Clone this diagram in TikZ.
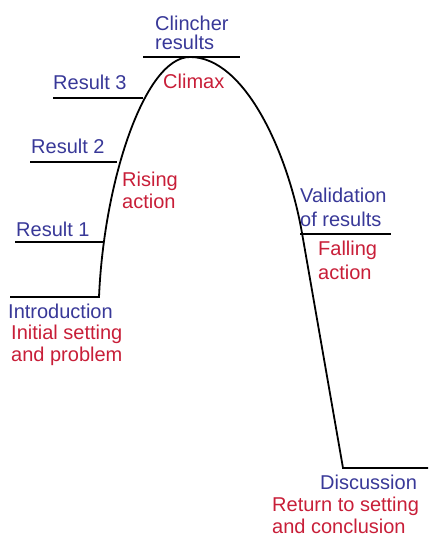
\documentclass[tikz,border=0pt]{standalone}
\usepackage{fontspec}
\setmainfont{Liberation Sans}
\definecolor{stageblue}{RGB}{56,56,152}
\definecolor{stagered}{RGB}{200,30,56}
\begin{document}
\begin{tikzpicture}[x=1pt,y=-1pt,
  arc/.style={line width=1.8pt,black},
  blueword/.style={text=stageblue,inner sep=0pt,anchor=base west,align=left,
    font=\fontsize{20}{22}\selectfont},
  redword/.style={text=stagered,inner sep=0pt,anchor=base west,align=left,
    font=\fontsize{20}{22}\selectfont},
  wide/.style={font=\fontsize{20}{24}\selectfont},
  tight/.style={font=\fontsize{20}{19}\selectfont}]
  \useasboundingbox (0,0) rectangle (428,537);
  % points on the story arc
  \coordinate (I0) at (10,297);
  \coordinate (I) at (99,297);
  \coordinate (T) at (190,57);
  \coordinate (V) at (302,233);
  \coordinate (D) at (343,468);
  \coordinate (D1) at (428,468);
  % the arc itself
  \draw[arc] (I0)--(I) .. controls (104,180) and (145,57) .. (T)
    .. controls (245,57) and (288,153) .. (V) -- (D) -- (D1);
  % result lines
  \coordinate (R1) at (103,242);
  \coordinate (R2) at (117,162);
  \coordinate (R3) at (143,98);
  \draw[arc] (15,242)--(R1);   % result 1
  \draw[arc] (30,162)--(R2);   % result 2
  \draw[arc] (53,98)--(R3);    % result 3
  \draw[arc] (143,57)--(240,57); % clincher
  \draw[arc] (300,234)--(391,234); % validation
  % labels (two-line labels sit on their last baseline)
  \node[blueword,tight] (clinch) at (155,50) {Clincher\\results};
  \node[redword]  (climax) at (163,89) {Climax};
  \node[blueword] (res3) at (53,90) {Result 3};
  \node[blueword] (res2) at (31,154) {Result 2};
  \node[blueword] (res1) at (16,236) {Result 1};
  \node[redword]  (rising) at (122,208) {Rising\\action};
  \node[blueword,wide] (valid) at (300,226) {Validation\\of results};
  \node[redword,wide]  (falling) at (318,279) {Falling\\action};
  \node[blueword] (intro) at (8,318) {Introduction};
  \node[redword]  (setting) at (11,361) {Initial setting\\and problem};
  \node[blueword] (disc) at (320,489) {Discussion};
  \node[redword]  (return) at (272,533) {Return to setting\\and conclusion};
\end{tikzpicture}
\end{document}
